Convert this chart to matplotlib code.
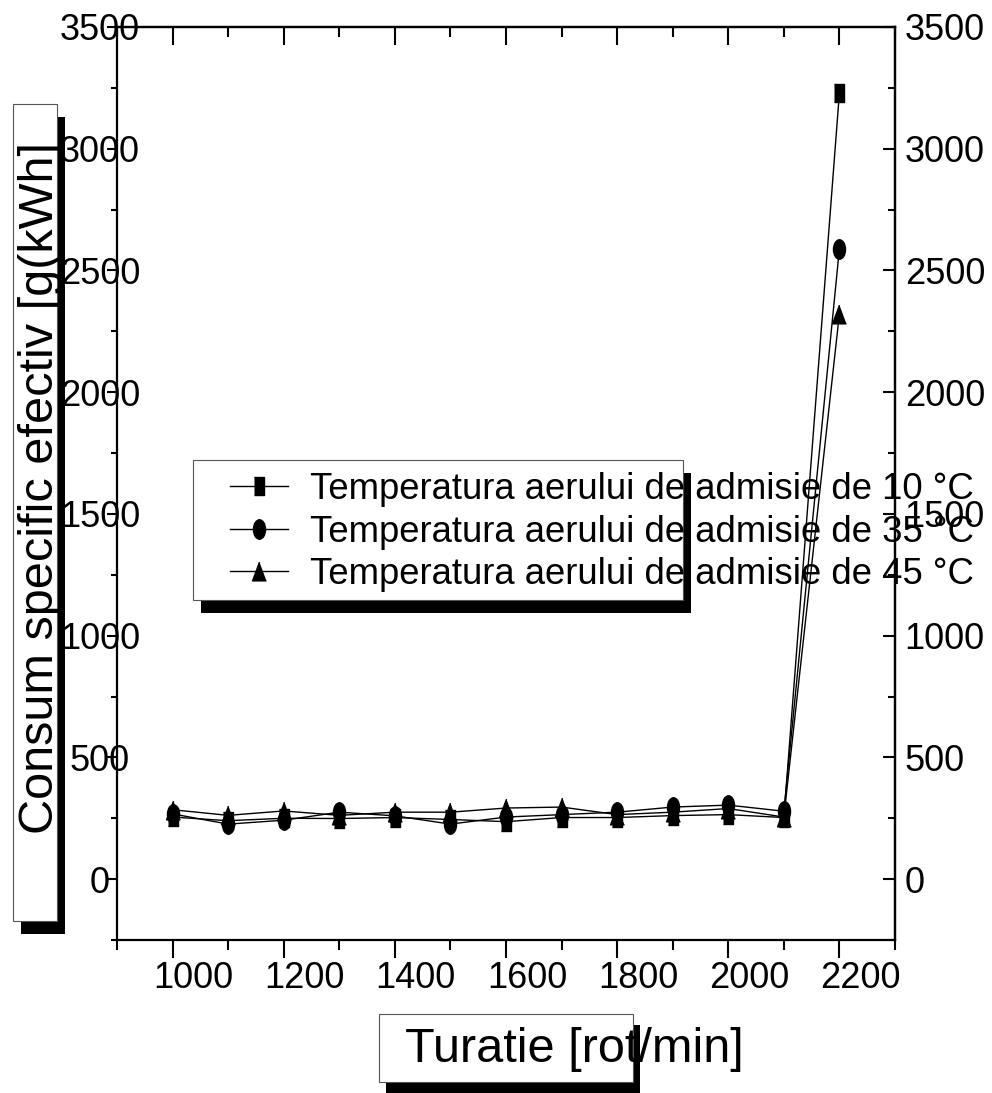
import numpy as np
import matplotlib.pyplot as plt
from matplotlib.path import Path
from matplotlib.patches import Rectangle
from matplotlib.transforms import Affine2D, ScaledTranslation
from matplotlib.ticker import MultipleLocator

plt.rcParams['font.family'] = ['Liberation Sans', 'DejaVu Sans']

# Data
turatie = [1000, 1100, 1200, 1300, 1400, 1500, 1600, 1700, 1800, 1900, 2000, 2100, 2200]
cons_10 = [255, 240, 250, 249, 253, 245, 236, 253, 253, 261, 265, 253, 3230]
cons_35 = [268, 226, 242, 275, 260, 226, 255, 265, 275, 296, 304, 279, 2590]
cons_45 = [285, 262, 280, 262, 275, 275, 292, 296, 265, 275, 290, 255, 2323]

labels = ['Temperatura aerului de admisie de 10 °C',
          'Temperatura aerului de admisie de 35 °C',
          'Temperatura aerului de admisie de 45 °C']

W, H = 992, 1093
fig = plt.figure(figsize=(W / 100, H / 100), dpi=100)


def fx(px):
    return px / W


def fy(py):
    return 1 - py / H


ax = fig.add_axes([fx(117), fy(940), fx(895) - fx(117), fy(27) - fy(940)])

# tall markers, like the original export
sq = [(-0.6, -1), (0.6, -1), (0.6, 1), (-0.6, 1)]
ell = Affine2D().scale(0.62, 1).transform_path(Path.unit_circle())
tri = [(0, 1), (-0.74, -1), (0.74, -1)]

kw = dict(color='black', lw=1.0, mfc='black', mec='black')
l1, = ax.plot(turatie, cons_10, marker=sq, ms=12.5, **kw)
l2, = ax.plot(turatie, cons_35, marker=ell, ms=14, **kw)
l3, = ax.plot(turatie, cons_45, marker=tri, ms=13.5, **kw)

ax.set_xlim(900, 2300)
ax.set_ylim(-250, 3500)
ax.set_xticks(np.arange(1000, 2201, 200))
ax.xaxis.set_minor_locator(MultipleLocator(100))
ax.set_yticks(np.arange(0, 3501, 500))
ax.yaxis.set_minor_locator(MultipleLocator(250))

for s in ax.spines.values():
    s.set_linewidth(1.6)

ax.tick_params(axis='x', which='major', direction='out', length=13, width=1.5, labelsize=26, pad=2)
ax.tick_params(axis='x', which='minor', direction='out', length=7, width=1.5)
ax.tick_params(axis='y', which='major', direction='out', length=7.2, width=1.5, labelsize=26, pad=5)
ax.tick_params(axis='y', which='minor', direction='out', length=4.5, width=1.5)

# top and right: inward ticks
top = ax.secondary_xaxis('top')
top.set_xticks(np.arange(1000, 2201, 200))
top.xaxis.set_minor_locator(MultipleLocator(100))
top.tick_params(which='major', direction='in', length=13, width=1.5, labeltop=False)
top.tick_params(which='minor', direction='in', length=7, width=1.5)
top.spines['top'].set_linewidth(1.6)

right = ax.secondary_yaxis('right')
right.set_yticks(np.arange(0, 3501, 500))
right.yaxis.set_minor_locator(MultipleLocator(250))
right.tick_params(which='major', direction='in', length=8.6, width=1.5, labelsize=26, pad=7)
right.tick_params(which='minor', direction='in', length=5, width=1.5)
right.spines['right'].set_linewidth(1.6)

# label offsets as in the original
for lab in ax.get_yticklabels():
    lab.set_horizontalalignment('center')
shift = ScaledTranslation(0.21, 0, fig.dpi_scale_trans)
for lab in ax.get_xticklabels():
    lab.set_transform(lab.get_transform() + shift)


def shadow_box(x0, y0, x1, y1, dx, dy):
    fig.add_artist(Rectangle((fx(x0 + dx), fy(y1 + dy)), fx(x1) - fx(x0), fy(y0) - fy(y1),
                             transform=fig.transFigure, facecolor='black',
                             edgecolor='none', zorder=2))
    fig.add_artist(Rectangle((fx(x0), fy(y1)), fx(x1) - fx(x0), fy(y0) - fy(y1),
                             transform=fig.transFigure, facecolor='white',
                             edgecolor='#555555', lw=0.8, zorder=3))


# legend
shadow_box(193, 460, 683, 600, 8, 13)
fig.legend([l1, l2, l3], labels, loc='center left',
           bbox_to_anchor=(fx(230), fy(532)), bbox_transform=fig.transFigure,
           frameon=False, fontsize=26.3, handlelength=1.6, handletextpad=0.6,
           labelspacing=0.2, borderpad=0, borderaxespad=0)

# axis titles
shadow_box(13, 104, 57, 921, 8, 13)
fig.text(fx(41), fy(488), 'Consum specific efectiv [g(kWh]', rotation=90,
         ha='center', va='center', fontsize=35, zorder=6)

shadow_box(379, 1014, 633, 1082, 7, 11)
fig.text(fx(574), fy(1050), 'Turatie [rot/min]', ha='center', va='center',
         fontsize=35, zorder=6)

fig.savefig('out.png', dpi=100)
